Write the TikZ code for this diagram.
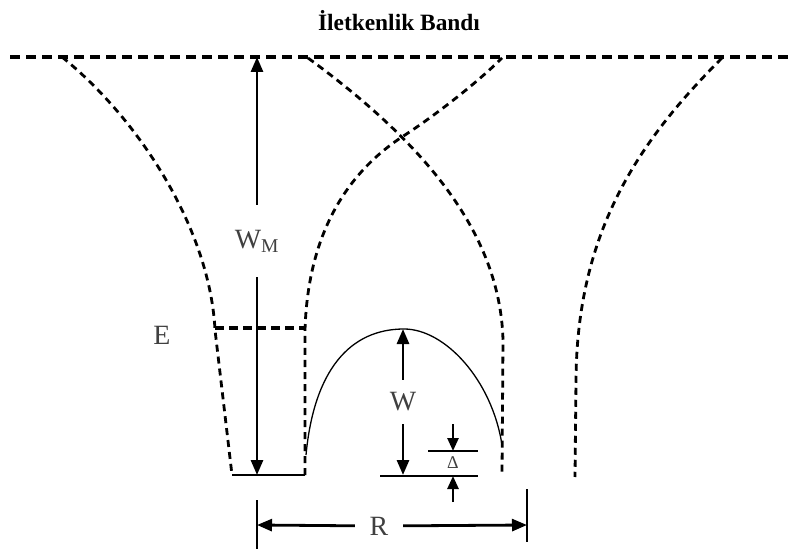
\documentclass[tikz,border=0pt]{standalone}
\usepackage{fontspec}
\setmainfont{Liberation Serif}
\usetikzlibrary{arrows.meta,positioning}
\tikzset{
  >={Triangle[length=15bp,width=12bp]},
  bandln/.style={line width=3.6bp,dash pattern=on 10bp off 6bp},
  potln/.style={line width=2.8bp,dash pattern=on 7bp off 5bp},
  levln/.style={line width=3.2bp,dash pattern=on 9bp off 5bp},
  baseln/.style={line width=1.3bp},
  dimarr/.style={->,line width=2.8bp},
  tickarr/.style={->,line width=2.6bp,>={Triangle[length=13bp,width=11bp]}},
  dimlbl/.style={font=\fontsize{28}{30}\selectfont,text=black!75,inner sep=0pt},
  titlelbl/.style={font=\bfseries\fontsize{23.5}{26}\selectfont},
}

\begin{document}
\begin{tikzpicture}[x=1bp,y=-1bp]
  \useasboundingbox (0,0) rectangle (792,550);

  \node[titlelbl] (title) at (399,21) {İletkenlik Bandı};

  % conduction band edge and the potential wells
  \draw[bandln] (10,57) -- (792,57);
  \draw[potln] (62,57) .. controls (140,120) and (210,230) .. (215,330) -- (232,475);
  \draw[potln] (305,475) -- (305,330)
     .. controls (308,230) and (350,170) .. (405,135)
     .. controls (440,112) and (480,80) .. (502,58);
  \draw[potln] (308,58) .. controls (420,140) and (500,230) .. (503,340) -- (502,475);
  \draw[potln] (722,58) .. controls (640,140) and (577,230) .. (576,380) -- (575,477);

  % well floor, level E and the barrier
  \draw[baseln] (232,475) -- (305,475);
  \draw[levln] (215,328) -- (305,328);
  \draw[baseln] (306,455) .. controls (314,370) and (350,329) .. (404,329)
     .. controls (445,329) and (492,380) .. (502,445);
  \draw[baseln] (380,476) -- (478,476);
  \draw[baseln] (428,451) -- (478,451);

  % labels
  \node[dimlbl] (e) at (162,335) {E};
  \node[dimlbl,minimum height=72bp] (wm) at (257,241) {W\textsubscript{M}};
  \node[dimlbl,minimum height=44bp] (w) at (403,402) {W};
  \node[dimlbl,minimum width=48bp] (r) at (379,526) {R};
  \node[font=\fontsize{18}{19}\selectfont,text=black!75] (dl) at (453,463) {Δ};

  \coordinate (wmtop) at (257,57);
  \coordinate (wmbot) at (257,475);
  \coordinate (wtop) at (403,329);
  \coordinate (wbot) at (403,475);
  \coordinate (rl) at (257,525);
  \coordinate (rr) at (527,525);
  \coordinate (dup) at (453,424);
  \coordinate (dupend) at (453,451);
  \coordinate (ddn) at (453,502);
  \coordinate (ddnend) at (453,476);

  % dimension arrows
  \draw[dimarr] (wm) -- (wmtop);
  \draw[dimarr] (wm) -- (wmbot);
  \draw[dimarr] (w) -- (wtop);
  \draw[dimarr] (w) -- (wbot);
  \draw[dimarr] (r) -- (rl);
  \draw[dimarr] (r) -- (rr);
  \draw[tickarr] (dup) -- (dupend);
  \draw[tickarr] (ddn) -- (ddnend);
  \draw[baseln] (257,500) -- (257,549);
  \draw[baseln] (527,489) -- (527,542);
\end{tikzpicture}
\end{document}
